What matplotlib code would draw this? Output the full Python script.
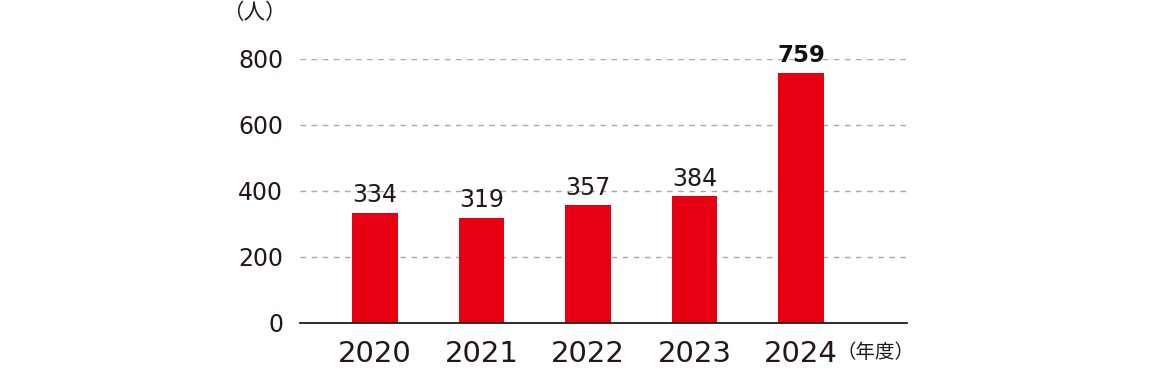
import matplotlib
matplotlib.use("Agg")
import matplotlib.pyplot as plt

years = ["2020", "2021", "2022", "2023", "2024"]
values = [334, 319, 357, 384, 759]
yticks = [0, 200, 400, 600, 800]

bar_color = "#E60012"
text_color = "#231815"

plt.rcParams['font.family'] = ['DejaVu Sans', 'Noto Sans CJK JP']

fig = plt.figure(figsize=(11.5, 3.7), dpi=100)
ax = fig.add_axes([300/1150, 47/370, 607/1150, 264/370])

x = list(range(len(years)))
ax.bar(x, values, width=0.43, color=bar_color, zorder=3)

ax.set_xlim(-0.704, 4.995)
ax.set_ylim(0, 800)
ax.set_yticks(yticks)
ax.set_yticklabels([str(v) for v in yticks])
ax.set_xticks(x)
ax.set_xticklabels(years)

for v in yticks[1:]:
    ax.axhline(v, color="#a8a8a8", linewidth=1.0, linestyle=(0, (4, 4)), zorder=1)

for s in ["top", "right", "left"]:
    ax.spines[s].set_visible(False)
ax.spines["bottom"].set_color(text_color)
ax.spines["bottom"].set_linewidth(1.3)
ax.spines["bottom"].set_zorder(4)

ax.tick_params(axis="y", length=0, pad=12, labelsize=17, labelcolor=text_color)
ax.tick_params(axis="x", length=0, pad=12, labelsize=21, labelcolor=text_color)

for i, v in enumerate(values):
    last = i == len(values) - 1
    ax.annotate(str(v), (i, v), xytext=(0, 4), textcoords="offset points",
                ha="center", va="bottom", fontsize=16.5 if last else 17,
                fontweight="bold" if last else "normal",
                color=text_color if not last else "#111111", clip_on=False, zorder=5)

fig.text(254/1150, 1 - 13/370, "（人）", ha="center", va="center", fontsize=15.5,
         color=text_color, family=['Noto Sans CJK JP', 'DejaVu Sans'])
fig.text(876/1150, 1 - 352/370, "（年度）", ha="center", va="center", fontsize=14,
         color=text_color, family=['Noto Sans CJK JP', 'DejaVu Sans'])

fig.savefig("out.png", dpi=100)
